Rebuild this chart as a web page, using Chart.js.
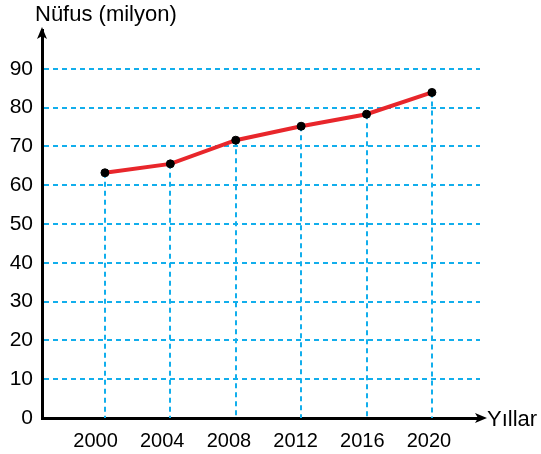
<!DOCTYPE html>
<html>
<head>
<meta charset="utf-8">
<script src="https://cdn.jsdelivr.net/npm/chart.js@4.4.0/dist/chart.umd.min.js"></script>
<style>
  html, body { margin: 0; padding: 0; background: #fff; }
  #wrap { width: 541px; height: 454px; }
</style>
</head>
<body>
<div id="wrap"><canvas id="nufus"></canvas></div>
<script>
// yıllar ve nüfus (milyon)
const years = [2000, 2004, 2008, 2012, 2016, 2020];
const population = [63.2, 65.5, 71.6, 75.2, 78.3, 83.9];
const yTicks = [0, 10, 20, 30, 40, 50, 60, 70, 80, 90];

const FONT = "'Liberation Sans', Arial, sans-serif";
const BLUE = "#12aeec";
const RED = "#e8262b";

// dikey kesikli çizgiler + eksen okları + başlıklar
const decor = {
  id: "decor",
  beforeDatasetsDraw(chart) {
    const { ctx, scales: { x, y } } = chart;
    ctx.save();
    ctx.strokeStyle = BLUE;
    ctx.lineWidth = 2;
    ctx.setLineDash([5, 4]);
    years.forEach((yr, i) => {
      const px = Math.round(x.getPixelForValue(yr));
      ctx.beginPath();
      ctx.moveTo(px, y.getPixelForValue(population[i]));
      ctx.lineTo(px, y.getPixelForValue(0));
      ctx.stroke();
    });
    ctx.restore();
  },
  afterDraw(chart) {
    const { ctx, chartArea: a } = chart;
    ctx.save();
    ctx.fillStyle = "#000";
    ctx.strokeStyle = "#000";
    ctx.lineWidth = 3;
    // x ekseni uzatma + ok
    ctx.beginPath();
    ctx.moveTo(a.right - 2, a.bottom);
    ctx.lineTo(a.right + 2, a.bottom);
    ctx.stroke();
    ctx.beginPath();
    ctx.moveTo(a.right + 7, a.bottom);
    ctx.lineTo(a.right - 5, a.bottom - 5);
    ctx.lineTo(a.right - 2, a.bottom);
    ctx.lineTo(a.right - 5, a.bottom + 5);
    ctx.closePath();
    ctx.fill();
    // y ekseni ok
    ctx.beginPath();
    ctx.moveTo(a.left, a.top - 3);
    ctx.lineTo(a.left - 5, a.top + 9);
    ctx.lineTo(a.left, a.top + 6);
    ctx.lineTo(a.left + 5, a.top + 9);
    ctx.closePath();
    ctx.fill();
    // etiketler
    ctx.font = "22px " + FONT;
    ctx.textBaseline = "alphabetic";
    ctx.textAlign = "left";
    ctx.fillText("Nüfus (milyon)", 35, 21);
    ctx.fillText("Yıllar", a.right + 7, a.bottom + 8);
    ctx.restore();
  }
};

new Chart(document.getElementById("nufus"), {
  type: "line",
  data: {
    datasets: [{
      data: years.map((yr, i) => ({ x: yr, y: population[i] })),
      xAxisID: "x",
      borderColor: RED,
      borderWidth: 4,
      pointBackgroundColor: "#000",
      pointBorderColor: "#000",
      pointRadius: 4,
      pointBorderWidth: 1,
      tension: 0
    }]
  },
  options: {
    responsive: true,
    maintainAspectRatio: false,
    animation: false,
    devicePixelRatio: 1,
    layout: { padding: { top: 30, right: 61, left: 0, bottom: 0 } },
    plugins: { legend: { display: false }, tooltip: { enabled: false } },
    scales: {
      // veri ekseni (etiketsiz)
      x: {
        type: "linear",
        position: "bottom",
        min: 1996.15,
        max: 2022.94,
        afterBuildTicks: (s) => { s.ticks = years.map((v) => ({ value: v })); },
        afterFit: (s) => { s.height = 0; },
        grid: { display: false, drawTicks: false },
        border: { display: true, color: "#000", width: 3 },
        ticks: { display: false }
      },
      // yıl etiketleri
      xLabels: {
        type: "linear",
        position: "bottom",
        min: 1996.79,
        max: 2023.06,
        afterBuildTicks: (s) => { s.ticks = years.map((v) => ({ value: v })); },
        afterFit: (s) => { s.height = 36; },
        grid: { display: false, drawTicks: false },
        border: { display: false },
        ticks: {
          padding: 11,
          color: "#000",
          font: { family: FONT, size: 20 },
          autoSkip: false,
          maxRotation: 0,
          callback: (v) => String(v)
        }
      },
      y: {
        min: 0,
        max: 100,
        afterBuildTicks: (s) => { s.ticks = yTicks.map((v) => ({ value: v })); },
        afterFit: (s) => { s.width = 42; },
        grid: {
          drawTicks: false,
          lineWidth: 2,
          color: (c) => (c.tick && c.tick.value > 0 ? BLUE : "rgba(0,0,0,0)")
        },
        // dash burada ızgara çizgileri için
        border: { display: true, color: "#000", width: 3, dash: [5, 4] },
        ticks: {
          padding: 9,
          color: "#000",
          font: { family: FONT, size: 21 }
        }
      }
    }
  },
  plugins: [decor]
});
</script>
</body>
</html>
